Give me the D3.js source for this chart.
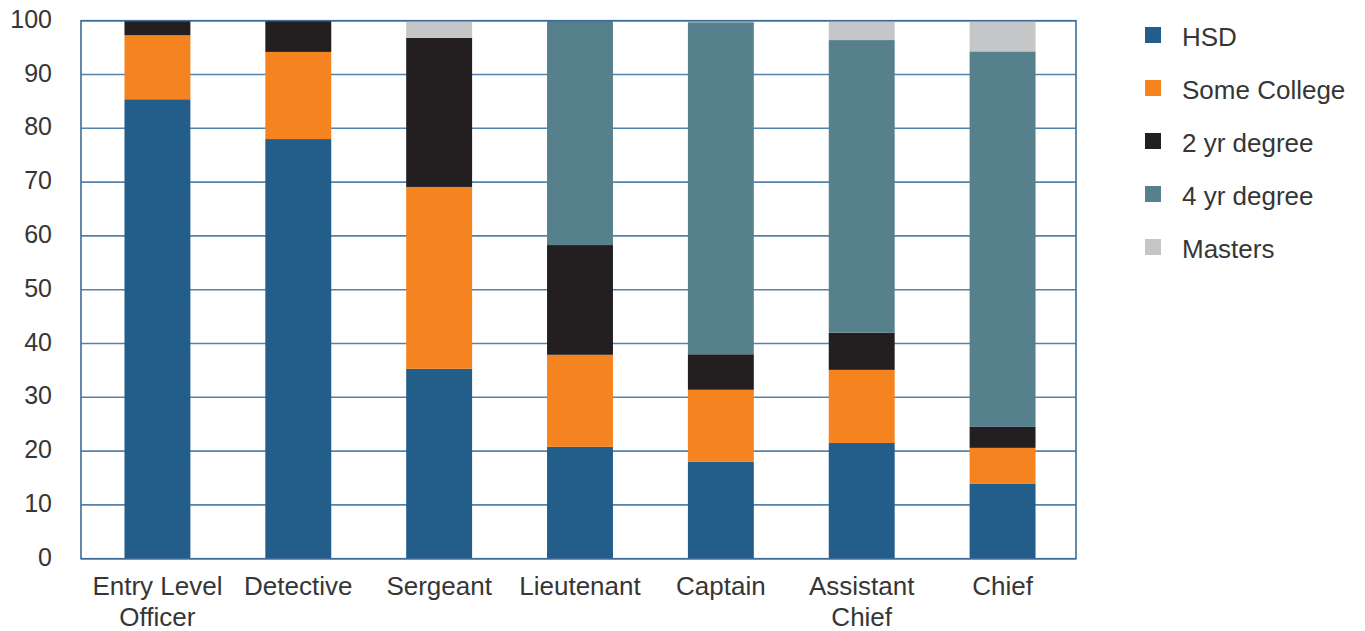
<!DOCTYPE html>
<html>
<head>
<meta charset="utf-8">
<script src="https://cdn.jsdelivr.net/npm/d3@7"></script>
<style>
  html, body { margin: 0; padding: 0; background: #ffffff; }
  svg { display: block; font-family: "Liberation Sans", "Helvetica Neue", Arial, sans-serif; }
</style>
</head>
<body>
<svg id="chart" width="1365" height="631"></svg>
<script>
// Education level by rank (percent of each rank)
const categories = ["Entry Level\nOfficer", "Detective", "Sergeant", "Lieutenant", "Captain", "Assistant\nChief", "Chief"];
const seriesNames = ["HSD", "Some College", "2 yr degree", "4 yr degree", "Masters"];
const hsd         = [85.4, 78.0, 35.3, 20.8, 18.0, 21.5, 13.9];
const someCollege = [11.9, 16.2, 33.8, 17.1, 13.4, 13.6,  6.7];
const twoYear     = [ 2.7,  5.8, 27.7, 20.4,  6.6,  6.9,  3.9];
const fourYear    = [ 0.0,  0.0,  0.0, 41.7, 61.7, 54.4, 69.8];
const masters     = [ 0.0,  0.0,  3.2,  0.0,  0.0,  3.6,  5.7];
const yTicks      = [0, 10, 20, 30, 40, 50, 60, 70, 80, 90, 100];

const seriesValues = [hsd, someCollege, twoYear, fourYear, masters];
const colors = ["#235e8a", "#f5831f", "#231f20", "#57808d", "#c5c6c8"];

// one row per rank for d3.stack
const rows = categories.map((c, i) => {
  const r = { category: c };
  seriesNames.forEach((s, k) => { r[s] = seriesValues[k][i]; });
  return r;
});

const svg = d3.select("#chart");
const frame = { left: 81, right: 1076, top: 20.7, bottom: 558.7 };
const textColor = "#363636";
const gridColor = "#5382ab";

const y = d3.scaleLinear().domain([0, 100]).range([frame.bottom, frame.top]);
const x = d3.scaleBand().domain(categories).range([87, 1073])
  .paddingInner(0.532).paddingOuter(0.266);
const color = d3.scaleOrdinal().domain(seriesNames).range(colors);

// horizontal gridlines
svg.append("g")
  .selectAll("line")
  .data(yTicks)
  .join("line")
  .attr("x1", frame.left).attr("x2", frame.right)
  .attr("y1", d => y(d)).attr("y2", d => y(d))
  .attr("stroke", gridColor)
  .attr("stroke-width", 1.6);

// stacked bars
const stacked = d3.stack().keys(seriesNames)(rows);
svg.append("g")
  .selectAll("g")
  .data(stacked)
  .join("g")
  .attr("fill", d => color(d.key))
  .selectAll("rect")
  .data(d => d.filter(p => p[1] - p[0] > 0))
  .join("rect")
  .attr("x", d => x(d.data.category))
  .attr("width", x.bandwidth())
  .attr("y", d => y(d[1]))
  .attr("height", d => y(d[0]) - y(d[1]));

// plot frame
svg.append("rect")
  .attr("x", frame.left).attr("y", frame.top)
  .attr("width", frame.right - frame.left)
  .attr("height", frame.bottom - frame.top)
  .attr("fill", "none")
  .attr("stroke", "#3d6c98")
  .attr("stroke-width", 1.6);

// y axis labels
const yAxis = svg.append("g")
  .attr("transform", `translate(${frame.left},0)`)
  .call(d3.axisLeft(y).tickValues(yTicks).tickSize(0).tickPadding(29));
yAxis.select(".domain").remove();
yAxis.selectAll("text")
  .attr("font-size", 25)
  .attr("font-family", "Liberation Sans, Arial, sans-serif")
  .attr("fill", textColor)
  .attr("dy", "0.26em");

// x axis labels (multi-line)
const xLabels = svg.append("g")
  .selectAll("text")
  .data(categories)
  .join("text")
  .attr("x", d => x(d) + x.bandwidth() / 2)
  .attr("y", 595)
  .attr("text-anchor", "middle")
  .attr("font-size", 26)
  .attr("fill", textColor);
xLabels.selectAll("tspan")
  .data(d => d.split("\n"))
  .join("tspan")
  .attr("x", function () { return this.parentNode.getAttribute("x"); })
  .attr("dy", (d, i) => i === 0 ? 0 : 31)
  .text(d => d);

// legend
const legend = svg.append("g")
  .selectAll("g")
  .data(seriesNames)
  .join("g")
  .attr("transform", (d, i) => `translate(1145,${35 + i * 53})`);
legend.append("rect")
  .attr("x", 0).attr("y", -8)
  .attr("width", 16).attr("height", 16)
  .attr("fill", d => color(d));
legend.append("text")
  .attr("x", 37).attr("y", 2)
  .attr("dy", "0.35em")
  .attr("font-size", 26)
  .attr("fill", textColor)
  .text(d => d);
</script>
</body>
</html>
